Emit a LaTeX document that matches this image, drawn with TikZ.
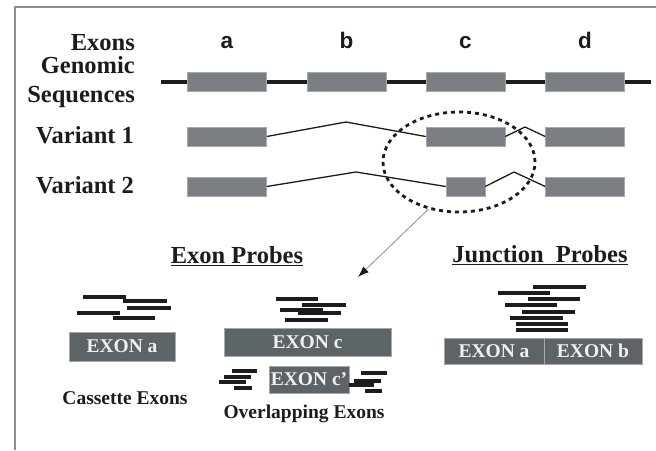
\documentclass[tikz,border=0pt]{standalone}
\usepackage{fontspec}
\setmainfont{Liberation Serif}
\setsansfont{Liberation Sans}
\usetikzlibrary{arrows.meta,shapes.geometric}

\definecolor{ink}{RGB}{28,28,28}
\definecolor{exongray}{RGB}{122,127,131}
\definecolor{exonedge}{RGB}{165,169,172}
\definecolor{probegray}{RGB}{92,100,103}
\definecolor{framegray}{RGB}{138,142,145}
\definecolor{pointer}{RGB}{140,140,140}

\begin{document}
\begin{tikzpicture}[x=1pt, y=-1pt,
    label/.style = {inner sep=0pt, text=ink, font=\fontsize{24.5}{28}\selectfont\bfseries},
    letter/.style = {inner sep=0pt, text=ink, font=\fontsize{22.5}{26}\selectfont\sffamily\bfseries},
    caption/.style = {inner sep=0pt, text=ink, font=\fontsize{19.5}{22}\selectfont\bfseries},
    exon/.style = {draw=exonedge, fill=exongray, line width=0.5pt, inner sep=0pt,
                   minimum width=79pt, minimum height=19pt},
    probebox/.style = {draw=exonedge, fill=probegray, line width=0.6pt, inner sep=0pt,
                       text=white!94!black, font=\fontsize{19.5}{22}\selectfont\bfseries},
    intron/.style = {draw=ink, line width=1.3pt},
    probe/.style = {draw=ink, line width=3.1pt}]
    \useasboundingbox (0,0) rectangle (656,450);
    \draw[framegray, line width=1.4pt] (15,450) -- (15,7) -- (656,7);

    % row labels
    \node[label, anchor=base east] (exons) at (135,50) {Exons};
    \node[label, anchor=base east] (genomic) at (135,73) {Genomic};
    \node[label, anchor=base east] (sequences) at (135,102) {Sequences};
    \node[label, anchor=base west] (var1) at (36,143) {Variant 1};
    \node[label, anchor=base west] (var2) at (36,193) {Variant 2};

    % genomic sequence
    \coordinate (gleft) at (161,82);
    \coordinate (gright) at (651,82);
    \draw[ink, line width=3.4pt] (gleft) -- (gright);
    \foreach \n/\x in {a/227, b/346.5, c/465.5, d/585} {
        \node[exon] (g\n) at (\x,81.5) {};
        \node[letter, anchor=base] (l\n) at (\x,48) {\n};
    }

    % variants
    \node[exon] (v1a) at (227,136.5) {};
    \node[exon] (v1c) at (465.5,136.5) {};
    \node[exon] (v1d) at (585,136.5) {};
    \node[exon] (v2a) at (227,186.5) {};
    \node[exon, minimum width=39pt] (v2c) at (465.5,186.5) {};
    \node[exon] (v2d) at (585,186.5) {};
    \coordinate (v1p1) at (346,122);
    \coordinate (v1p2) at (525,127);
    \coordinate (v2p1) at (356,172);
    \coordinate (v2p2) at (514,172);
    \draw[intron] (v1a.east) -- (v1p1) -- (v1c.west);
    \draw[intron] (v1c.east) -- (v1p2) -- (v1d.west);
    \draw[intron] (v2a.east) -- (v2p1) -- (v2c.west);
    \draw[intron] (v2c.east) -- (v2p2) -- (v2d.west);

    % region of interest
    \node[ellipse, draw=ink, line width=2.8pt, dash pattern=on 4pt off 4pt,
          minimum width=152pt, minimum height=100pt] (roi) at (459,162) {};
    \coordinate (tip) at (358,277);
    \draw[pointer, line width=0.8pt, -{Latex[length=11pt, width=8pt, color=ink]}] (roi.237) -- (tip);

    % probe headings
    \node[label, anchor=base] (exonprobes) at (237,263) {Exon Probes};
    \node[label, anchor=base] (junctionprobes) at (540,262) {Junction\ \ Probes};
    \draw[ink, line width=1.5pt] ([yshift=-2.5pt]exonprobes.base west) -- ([yshift=-2.5pt]exonprobes.base east);
    \draw[ink, line width=1.5pt] ([yshift=-2.5pt]junctionprobes.base west) -- ([yshift=-2.5pt]junctionprobes.base east);

    % probe targets
    \node[probebox, minimum width=106pt, minimum height=29pt] (boxa) at (122,346.5) {EXON a};
    \node[probebox, minimum width=167pt, minimum height=28pt] (boxc) at (307.5,342) {EXON c};
    \node[probebox, minimum width=80pt, minimum height=27pt] (boxcc) at (309,379.5) {EXON c’};
    \node[probebox, minimum width=100pt, minimum height=26pt] (ja) at (494,351) {EXON a};
    \node[probebox, minimum width=98pt, minimum height=26pt] (jb) at (593,351) {EXON b};
    \node[caption, anchor=base] (cassette) at (125,404) {Cassette Exons};
    \node[caption, anchor=base] (overlap) at (304,418) {Overlapping Exons};

    % probes
    \foreach \a/\b/\y in {83/126/297, 123/167/301, 127/171/308, 77/120/313, 113/155/318,
                          276/318/299, 302/346/305, 280/323/310, 298/341/313, 285/328/320,
                          232/257/371, 224/251/377, 219/246/382, 234/252/388,
                          361/387/373, 354/381/381, 349/374/385, 365/382/391,
                          533/586/287, 498/550/293, 528/580/299, 505/557/305,
                          522/575/312, 510/563/318, 516/568/324, 516/568/330}
        \draw[probe] (\a,\y) -- (\b,\y);
\end{tikzpicture}
\end{document}
